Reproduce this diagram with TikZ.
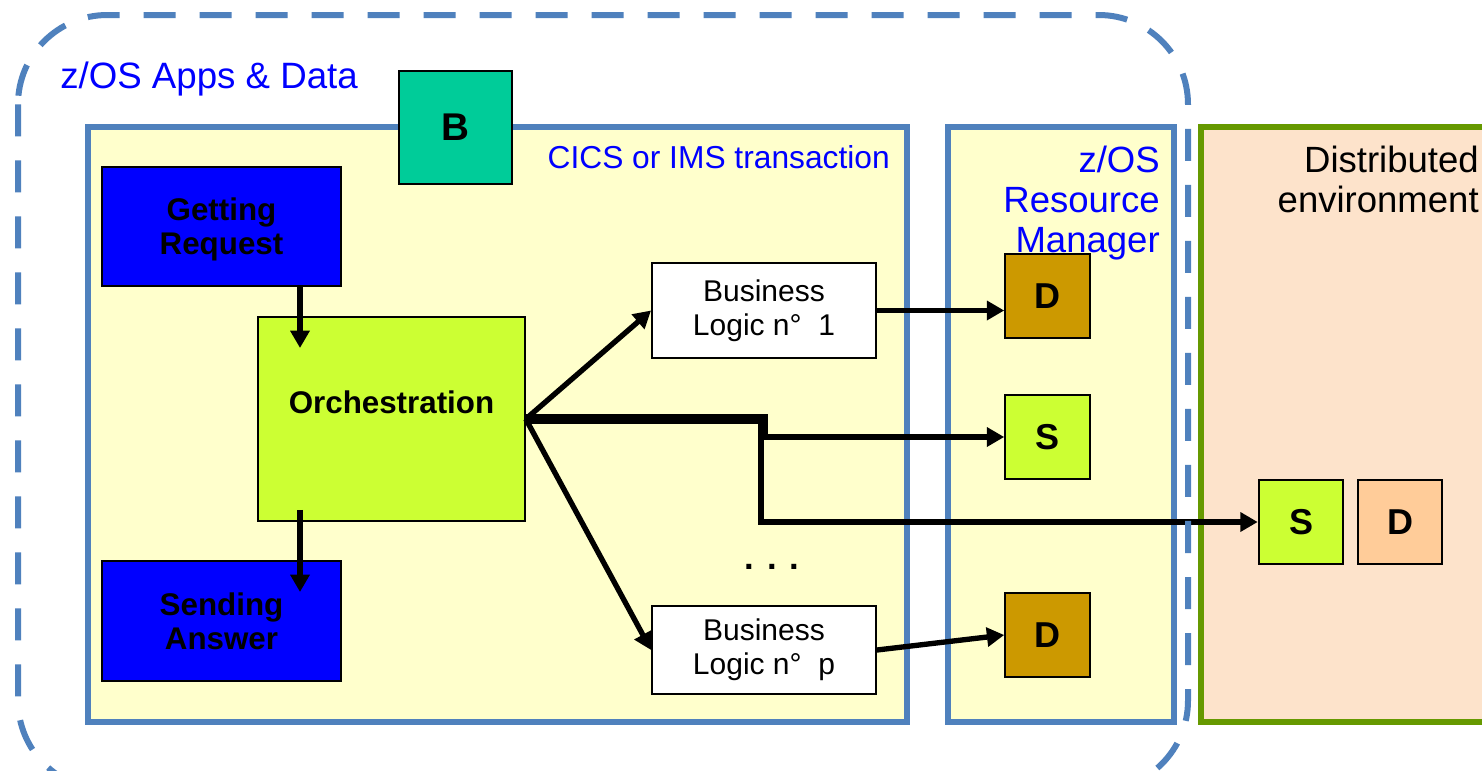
\documentclass[tikz,border=0pt]{standalone}
\usepackage{fontspec}
\setmainfont{Liberation Sans}
\usetikzlibrary{arrows.meta,calc}
\definecolor{bblue}{HTML}{4F81BD}
\definecolor{tblue}{HTML}{0000FF}
\definecolor{lyellow}{HTML}{FFFFCC}
\definecolor{lime}{HTML}{CCFF33}
\definecolor{teal}{HTML}{00CC99}
\definecolor{gold}{HTML}{CC9900}
\definecolor{peach}{HTML}{FFCC99}
\definecolor{dfill}{HTML}{FDE3CB}
\definecolor{dgreen}{HTML}{669900}
\begin{document}
\begin{tikzpicture}[x=0.75pt,y=-0.75pt,
  cont/.style={draw=bblue, line width=4pt, fill=lyellow},
  box/.style={draw=black, line width=1.4pt, inner sep=0pt, align=center},
  bfs/.style={font=\bfseries\fontsize{23.5}{25.5}\selectfont},
  sq/.style={box, minimum width=63.5pt, minimum height=63pt, font=\bfseries\fontsize{27}{30}\selectfont},
  blg/.style={box, fill=white, minimum width=168pt, font=\fontsize{22.5}{25.5}\selectfont},
  arr/.style={line width=4pt, -{Triangle[length=13pt,width=14pt]}},
  lbl/.style={inner sep=0pt, font=\fontsize{27.4}{30}\selectfont, align=right}
]
\useasboundingbox (0,0) rectangle (1482,771);
\fill[white] (0,0) rectangle (1482,771);
\clip (0,0) rectangle (1482,771);

% containers
\draw[cont] (88,127) rectangle (907,722);
\draw[cont] (948,127) rectangle (1174,722);
\draw[draw=dgreen, line width=4pt, fill=dfill] (1201,127) rectangle (1495,722);

% labels
\node[inner sep=0pt, text=tblue, font=\fontsize{27.5}{30}\selectfont, anchor=base west] (appslbl) at (60,88) {z/OS Apps \& Data};
\node[inner sep=0pt, text=tblue, font=\fontsize{23.8}{28}\selectfont, anchor=base east] (cicslbl) at (890,168) {CICS or IMS transaction};
\node[lbl, text=tblue, anchor=north east] (zrmlbl) at (1160,146) {z/OS\\Resource\\Manager};
\node[lbl, anchor=north east] (distlbl) at (1479,146) {Distributed\\environment};

% nodes
\node[box, fill=teal, minimum width=84.75pt, minimum height=84.75pt, font=\bfseries\fontsize{29}{32}\selectfont] (B) at (455.5,127.5) {B};
\node[box, fill=tblue, minimum width=179.25pt, minimum height=89.25pt,
      label={[bfs, align=center, yshift=-2.5pt]center:Getting\\Request}] (GR) at (221.5,226.5) {};
\node[box, bfs, fill=tblue, minimum width=179.25pt, minimum height=90pt] (SA) at (221.5,621) {Sending\\Answer};
\node[box, line width=1.2pt, fill=lime, minimum width=200.25pt, minimum height=153pt,
      label={[bfs, yshift=12.75pt]center:Orchestration}] (OR) at (391.5,419) {};
\node[blg, minimum height=71.25pt] (BL1) at (764,310.5) {Business\\Logic n°\ \ 1};
\node[blg, minimum height=66pt] (BLp) at (764,650) {Business\\Logic n°\ \ p};
\node[sq, fill=gold] (D1) at (1047.5,296) {D};
\node[sq, fill=lime] (S1) at (1047.5,437) {S};
\node[sq, fill=gold] (D2) at (1047.5,635) {D};
\node[sq, fill=lime] (S2) at (1301,522) {S};
\node[sq, fill=peach] (D3) at (1400,522) {D};
\node[inner sep=0pt, font=\bfseries\fontsize{26}{30}\selectfont, anchor=base] (dots) at (772,569) {. . .};

% connectors
\coordinate (gr2or) at (300,348);
\coordinate (or2sa) at (300,592);
\coordinate (j1) at (765,0);
\coordinate (j2) at (761,0);
\draw[arr] (GR.south -| gr2or) -- (gr2or);
\draw[arr] (OR.south -| or2sa) ++(0,-12) -- (or2sa);
\draw[arr] (OR.east) -- (BL1.west);
\draw[arr] (OR.east) -- (BLp.west);
\draw[arr] ([yshift=1.7pt]OR.east) -| (j1 |- S1.west) -- (S1.west);
\draw[arr] ([yshift=-1.7pt]OR.east) -| (j2 |- S2.west) -- (S2.west);
\draw[arr] (BL1.east) -- (BL1.east -| D1.west);
\draw[arr] (BLp.east) -- (D2.west);

% dashed outline
\draw[bblue, line width=4.5pt, dash pattern=on 24pt off 18pt, rounded corners=67pt] (18,15) rectangle (1188,790);
\end{tikzpicture}
\end{document}
